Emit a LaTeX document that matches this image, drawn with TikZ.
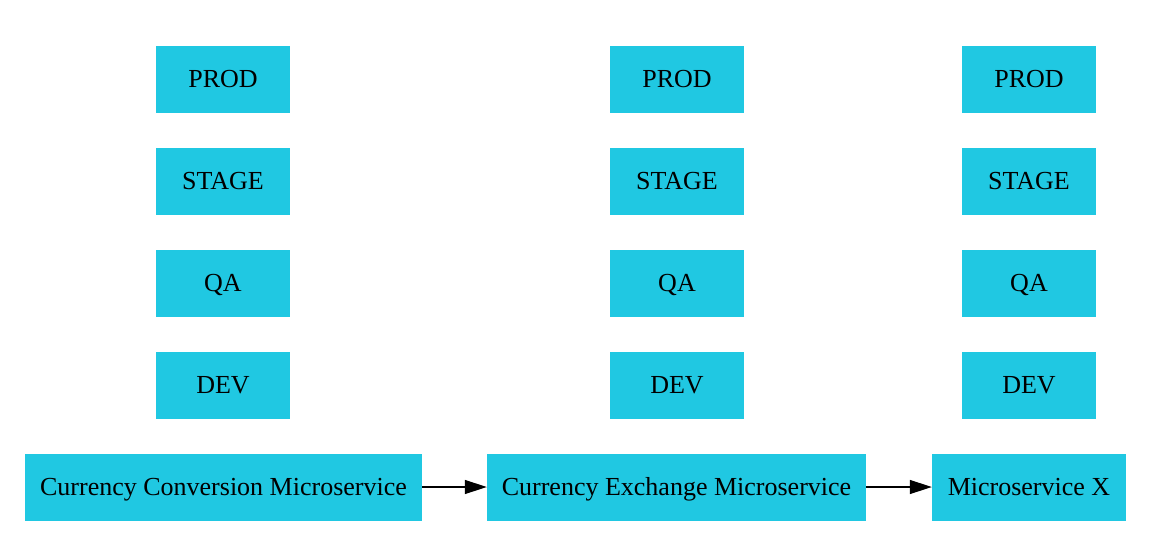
\documentclass[tikz,border=0pt]{standalone}
\usepackage{fontspec}
\setmainfont{Liberation Serif}
\usetikzlibrary{arrows.meta}
\definecolor{boxc}{HTML}{20C8E2}
\begin{document}
\begin{tikzpicture}[x=1pt,y=-1pt,
  box/.style={fill=boxc,draw=none,inner sep=0pt,minimum height=67pt,text height=19pt,text depth=2pt,font=\fontsize{26}{30}\selectfont},
  env/.style={box,minimum width=134pt},
  conn/.style={line width=1.2pt,-{Triangle[length=22pt,width=14pt]}}]
\useasboundingbox (0,0) rectangle (1157,549);
\foreach \c/\x in {a/223,b/677,c/1029}{
  \node[env] (\c p) at (\x,79) {PROD};
  \node[env] (\c s) at (\x,181) {STAGE};
  \node[env] (\c q) at (\x,283) {QA};
  \node[env] (\c d) at (\x,385) {DEV};
}
\node[box,minimum width=397pt] (m1) at (223.5,487) {Currency Conversion Microservice};
\node[box,minimum width=379pt] (m2) at (676.5,487) {Currency Exchange Microservice};
\node[box,minimum width=194pt] (m3) at (1029,487) {Microservice X};
\draw[conn] (m1) -- (m2);
\draw[conn] (m2) -- (m3);
\end{tikzpicture}
\end{document}
